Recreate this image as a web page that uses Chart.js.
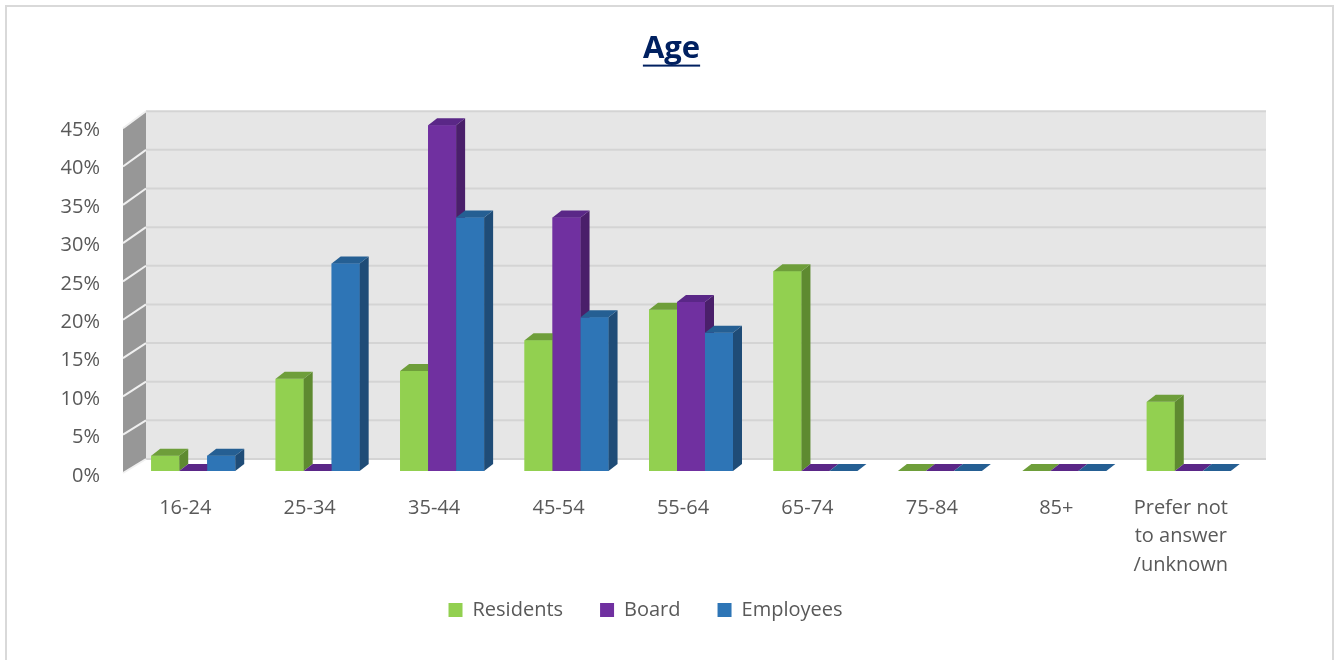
<!DOCTYPE html>
<html>
<head>
<meta charset="utf-8">
<title>Age</title>
<script src="https://cdn.jsdelivr.net/npm/chart.js@4.4.1/dist/chart.umd.min.js"></script>
<style>
  html, body { margin: 0; padding: 0; background: #fff; }
  canvas { display: block; }
</style>
</head>
<body>
<canvas id="age-chart" width="1343" height="660"></canvas>
<script>
// data (percent)
const categories = ['16-24', '25-34', '35-44', '45-54', '55-64', '65-74', '75-84', '85+', ['Prefer not', 'to answer', '/unknown']];
const residents = [2, 12, 13, 17, 21, 26, 0, 0, 9];
const board = [0, 0, 45, 33, 22, 0, 0, 0, 0];
const employees = [2, 27, 33, 20, 18, 0, 0, 0, 0];

const FONT = "'Open Sans', 'Liberation Sans', sans-serif";
const TEXT = '#595959';

// fake 3D: depth of the columns and of the walls
const DX = 9, DY = 7;
const faceColors = [
  { side: '#5E8A30', top: '#6E9E3A' }, // Residents
  { side: '#4A1F6A', top: '#5A2787' }, // Board
  { side: '#1F4C77', top: '#255F93' }  // Employees
];

function poly(ctx, pts, color) {
  ctx.fillStyle = color;
  ctx.beginPath();
  ctx.moveTo(pts[0][0], pts[0][1]);
  for (let i = 1; i < pts.length; i++) ctx.lineTo(pts[i][0], pts[i][1]);
  ctx.closePath();
  ctx.fill();
}

const look3d = {
  id: 'look3d',
  afterLayout(chart) {
    // Excel's legend sits a bit left of centre
    chart.legend.left -= 26;
    chart.legend.right -= 26;
    // room for the 3-line label (tick labels are clipped to the axis box)
    chart.scales.x.bottom += 40;
  },
  beforeDraw(chart) {
    const ctx = chart.ctx;
    ctx.save();
    ctx.strokeStyle = '#D9D9D9';
    ctx.lineWidth = 2;
    ctx.strokeRect(6, 6, 1327, 680);
    ctx.restore();
  },
  beforeDatasetsDraw(chart) {
    const { ctx, chartArea: ca, scales: { y } } = chart;
    const fl = ca.left - 8, bl = ca.left + 15, br = ca.right + 15;
    const fb = ca.bottom + 2, ft = ca.top + 3, bb = ca.bottom - 12, bt = ca.top - 14;
    const span = y.max - y.min;
    const frontY = v => fb + (ft - fb) * (v - y.min) / span;
    const backY = v => bb + (bt - bb) * (v - y.min) / span;

    ctx.save();
    ctx.fillStyle = '#E6E6E6';
    ctx.fillRect(bl, bt, br - bl, bb - bt);
    poly(ctx, [[fl, fb], [bl, bb], [bl, bt], [fl, ft]], '#979797');

    ctx.lineWidth = 2;
    y.ticks.forEach(t => {
      const yb = backY(t.value);
      ctx.strokeStyle = '#D4D4D4';
      ctx.beginPath();
      ctx.moveTo(bl, yb);
      ctx.lineTo(br, yb);
      ctx.stroke();
      ctx.strokeStyle = '#F0F0F0';
      ctx.beginPath();
      ctx.moveTo(fl, frontY(t.value));
      ctx.lineTo(bl, yb);
      ctx.stroke();
    });
    ctx.restore();
  },
  afterDatasetsDraw(chart) {
    // redraw every column left to right so each one hides the side of the one before
    const ctx = chart.ctx;
    ctx.save();
    chart.data.datasets.forEach((ds, i) => {
      const meta = chart.getDatasetMeta(i);
      if (meta.hidden) return;
      const c = faceColors[i];
      meta.data.forEach(bar => {
        const { x, y, base, width } = bar.getProps(['x', 'y', 'base', 'width'], true);
        const x0 = x - width / 2, x1 = x + width / 2;
        ctx.fillStyle = ds.backgroundColor;
        ctx.fillRect(x0, y, width, base - y);
        poly(ctx, [[x1, y], [x1 + DX, y - DY], [x1 + DX, base - DY], [x1, base]], c.side);
        poly(ctx, [[x0, y], [x1, y], [x1 + DX, y - DY], [x0 + DX, y - DY]], c.top);
      });
    });
    ctx.restore();
  },
  afterDraw(chart) {
    // underline the title
    const { ctx, titleBlock: tb } = chart;
    const opts = chart.options.plugins.title;
    ctx.save();
    ctx.font = "bold " + opts.font.size + "px " + FONT;
    const w = ctx.measureText(opts.text).width;
    const cx = (tb.left + tb.right) / 2;
    const mid = tb.top + opts.padding.top + opts.font.size * opts.font.lineHeight / 2;
    ctx.fillStyle = opts.color;
    ctx.fillRect(cx - w / 2, mid + 15, w, 2);
    ctx.restore();
  }
};

const ctx = document.getElementById('age-chart').getContext('2d');

new Chart(ctx, {
  type: 'bar',
  data: {
    labels: categories,
    datasets: [
      { label: 'Residents', data: residents, backgroundColor: '#92D050' },
      { label: 'Board', data: board, backgroundColor: '#7030A0' },
      { label: 'Employees', data: employees, backgroundColor: '#2E75B6' }
    ]
  },
  options: {
    responsive: false,
    animation: false,
    devicePixelRatio: 1,
    barPercentage: 1,
    categoryPercentage: 0.675,
    layout: { padding: { left: 0, right: 0, top: 0, bottom: 30 } },
    scales: {
      x: {
        grid: { display: false, drawTicks: false },
        border: { display: false },
        ticks: {
          color: TEXT,
          font: { family: FONT, size: 20, lineHeight: 1.425 },
          padding: 23,
          labelOffset: -8,
          maxRotation: 0,
          autoSkip: false
        },
        afterFit(s) { s.height = 92; }
      },
      y: {
        min: 0,
        max: 45,
        grid: { display: false, drawTicks: false },
        border: { display: false },
        ticks: {
          stepSize: 5,
          color: TEXT,
          font: { family: FONT, size: 20 },
          padding: 31,
          labelOffset: 5,
          callback: v => v + '%'
        },
        afterFit(s) { s.width = 131; }
      },
      yRight: {
        type: 'linear',
        position: 'right',
        grid: { display: false, drawTicks: false },
        border: { display: false },
        ticks: { display: false },
        afterFit(s) { s.width = 92; }
      }
    },
    plugins: {
      title: {
        display: true,
        text: 'Age',
        color: '#002060',
        font: { family: FONT, size: 31, weight: 'bold', lineHeight: 1.2 },
        padding: { top: 31, bottom: 57 }
      },
      legend: {
        position: 'bottom',
        labels: {
          color: TEXT,
          font: { family: FONT, size: 20 },
          boxWidth: 14,
          boxHeight: 14,
          padding: 37
        }
      },
      tooltip: {
        callbacks: {
          label: function (context) {
            return `${context.dataset.label}: ${context.raw}%`;
          }
        }
      }
    }
  },
  plugins: [look3d]
});
</script>
</body>
</html>
